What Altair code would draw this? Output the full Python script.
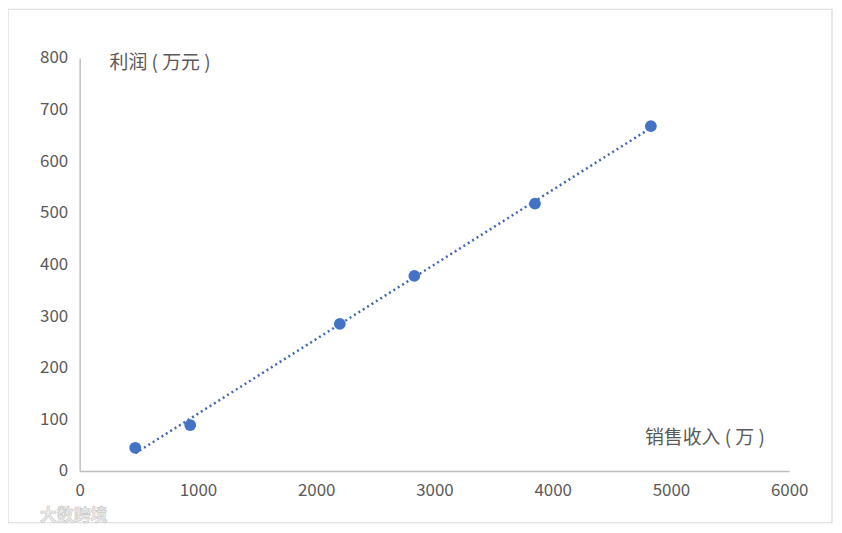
import altair as alt
import pandas as pd

sales = [470, 935, 2200, 2830, 3850, 4830]
profit = [45, 89, 285, 378, 518, 668]
x_ticks = [0, 1000, 2000, 3000, 4000, 5000, 6000]
y_ticks = [0, 100, 200, 300, 400, 500, 600, 700, 800]

df = pd.DataFrame({"sales": sales, "profit": profit})

W, H = 713, 415
FONT = "Noto Sans CJK SC"
BLUE = "#4472C4"

xs = alt.Scale(domain=[0, 6000], nice=False)
ys = alt.Scale(domain=[0, 800], nice=False)

x_enc = alt.X("sales:Q", scale=xs, axis=alt.Axis(
    values=x_ticks, format="d", title=None, grid=False, ticks=False, domainColor="#bfbfbf",
    domainWidth=1.5, labelColor="#595959", labelFontSize=17, labelFont=FONT,
    labelPadding=12, labelFlush=False))
y_enc = alt.Y("profit:Q", scale=ys, axis=alt.Axis(
    values=y_ticks, format="d", title=None, grid=False, ticks=False, domainColor="#bfbfbf",
    domainWidth=1.5, labelColor="#595959", labelFontSize=17, labelFont=FONT,
    labelPadding=12))

base = alt.Chart(df)

frame = alt.Chart(pd.DataFrame({"a": [0]})).mark_rect(
    fill=None, stroke="#d9d9d9", strokeWidth=1.2
).encode(x=alt.value(-72), x2=alt.value(W + 43), y=alt.value(-49), y2=alt.value(H + 52))

trend = base.transform_regression("sales", "profit").mark_line(
    color="#3F68B4", strokeWidth=2.5, strokeDash=[2, 3.2]
).encode(x=x_enc, y=y_enc)

points = base.mark_circle(size=140, color=BLUE, opacity=1).encode(x=x_enc, y=y_enc)

labels = alt.Chart(pd.DataFrame({"t": ["利润 ( 万元 )", "销售收入 ( 万 )"],
                                 "px": [30, 568], "py": [5, 382]})).mark_text(
    align="left", baseline="middle", font=FONT, fontSize=19, color="#595959"
).encode(x=alt.X("px:Q", scale=None), y=alt.Y("py:Q", scale=None), text="t:N")

watermark = alt.Chart(pd.DataFrame({"t": ["大数跨境"]})).mark_text(
    align="left", baseline="middle", font=FONT, fontSize=17, fontWeight="bold",
    color="#eeeeee", stroke="#c8c8c8", strokeWidth=0.6
).encode(x=alt.value(-40), y=alt.value(H + 45), text="t:N")

chart = alt.layer(frame, trend, points, labels, watermark).properties(
    width=W, height=H,
    autosize=alt.AutoSizeParams(type="none"),
    padding={"left": 72, "top": 49, "right": 45, "bottom": 54},
).configure(background="white").configure_view(stroke=None)

chart.save("out.html", embed_options={"renderer": "svg", "actions": False})
